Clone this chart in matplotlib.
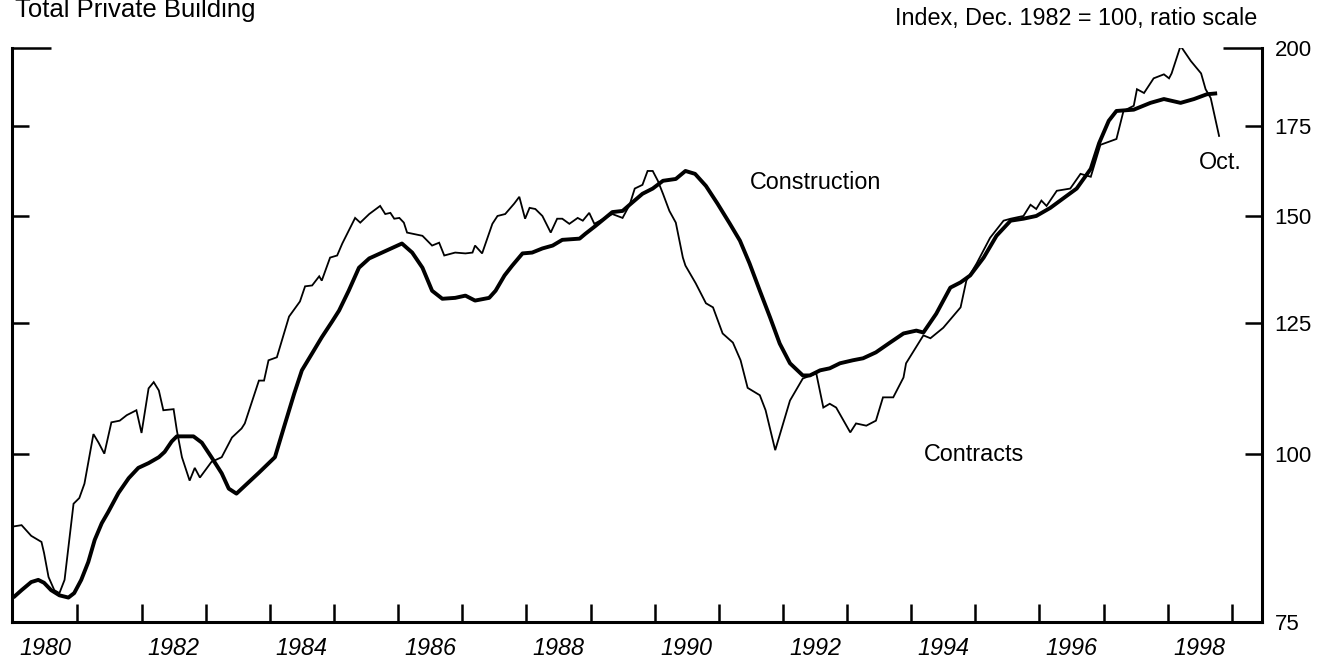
import matplotlib
matplotlib.use("Agg")
import matplotlib.pyplot as plt
from matplotlib.ticker import FixedLocator, NullLocator, FixedFormatter, NullFormatter

plt.rcParams["font.family"] = ["Liberation Sans", "DejaVu Sans"]

# index, Dec. 1982 = 100
constr_years = [1980.00, 1980.13, 1980.28, 1980.39, 1980.48, 1980.59, 1980.72, 1980.86, 1980.95,
                1981.06, 1981.17, 1981.27, 1981.38, 1981.48, 1981.64, 1981.80, 1981.95, 1982.11,
                1982.27, 1982.36, 1982.47, 1982.55, 1982.81, 1982.94, 1983.09, 1983.25, 1983.36,
                1983.48, 1983.83, 1984.08, 1984.22, 1984.38, 1984.50, 1984.66, 1984.81, 1984.97,
                1985.08, 1985.23, 1985.39, 1985.55, 1985.75, 1986.06, 1986.22, 1986.38, 1986.53,
                1986.69, 1986.89, 1987.05, 1987.20, 1987.42, 1987.52, 1987.66, 1987.78, 1987.94,
                1988.09, 1988.25, 1988.41, 1988.56, 1988.83, 1988.92, 1989.08, 1989.23, 1989.34,
                1989.50, 1989.61, 1989.81, 1989.97, 1990.13, 1990.33, 1990.48, 1990.63, 1990.80,
                1990.98, 1991.17, 1991.33, 1991.48, 1991.64, 1991.80, 1991.95, 1992.11, 1992.31,
                1992.42, 1992.58, 1992.73, 1992.89, 1993.09, 1993.25, 1993.45, 1993.67, 1993.88,
                1994.08, 1994.19, 1994.39, 1994.61, 1994.77, 1994.92, 1995.13, 1995.33, 1995.55,
                1995.75, 1995.95, 1996.17, 1996.38, 1996.58, 1996.80, 1996.93, 1997.08, 1997.20,
                1997.47, 1997.73, 1997.94, 1998.20, 1998.41, 1998.61, 1998.77]
constr_vals = [78.2, 79.2, 80.3, 80.6, 80.2, 79.2, 78.5, 78.2, 78.8,
               80.6, 83.1, 86.3, 88.8, 90.5, 93.5, 95.9, 97.6, 98.4,
               99.4, 100.3, 102.1, 103.0, 103.0, 101.9, 99.4, 96.7, 94.2,
               93.4, 96.8, 99.4, 104.6, 110.8, 115.3, 118.7, 122.0, 125.3,
               127.7, 132.1, 137.4, 139.6, 141.0, 143.2, 141.0, 137.4, 132.1,
               130.3, 130.5, 131.0, 129.9, 130.5, 132.1, 135.6, 137.9, 140.8,
               141.0, 142.0, 142.7, 144.1, 144.4, 145.6, 147.6, 149.6, 151.1,
               151.4, 153.0, 155.9, 157.3, 159.4, 159.9, 162.1, 161.3, 158.0,
               153.3, 148.2, 143.9, 138.4, 132.1, 126.2, 120.7, 116.7, 114.3,
               114.3, 115.3, 115.7, 116.7, 117.3, 117.7, 118.9, 120.9, 122.8,
               123.4, 123.0, 127.0, 132.8, 134.0, 135.6, 139.8, 145.1, 148.9,
               149.4, 150.1, 152.2, 154.8, 157.3, 162.7, 170.0, 176.6, 179.6,
               180.0, 182.1, 183.3, 182.1, 183.3, 184.8, 185.1]

contr_years = [1980.00, 1980.13, 1980.28, 1980.44, 1980.48, 1980.55, 1980.64, 1980.72, 1980.80,
               1980.88, 1980.94, 1981.03, 1981.11, 1981.25, 1981.33, 1981.42, 1981.53, 1981.66,
               1981.77, 1981.92, 1982.00, 1982.11, 1982.19, 1982.27, 1982.34, 1982.50, 1982.55,
               1982.63, 1982.75, 1982.83, 1982.91, 1983.09, 1983.25, 1983.41, 1983.56, 1983.61,
               1983.83, 1983.91, 1983.98, 1984.11, 1984.30, 1984.47, 1984.55, 1984.66, 1984.77,
               1984.81, 1984.94, 1985.05, 1985.13, 1985.33, 1985.41, 1985.55, 1985.72, 1985.80,
               1985.88, 1985.94, 1986.02, 1986.09, 1986.14, 1986.38, 1986.53, 1986.64, 1986.72,
               1986.89, 1987.05, 1987.16, 1987.20, 1987.31, 1987.47, 1987.55, 1987.67, 1987.81,
               1987.89, 1987.98, 1988.05, 1988.14, 1988.25, 1988.38, 1988.48, 1988.56, 1988.67,
               1988.80, 1988.88, 1988.98, 1989.06, 1989.23, 1989.34, 1989.50, 1989.61, 1989.69,
               1989.81, 1989.89, 1989.97, 1990.05, 1990.13, 1990.23, 1990.33, 1990.44, 1990.48,
               1990.64, 1990.80, 1990.91, 1991.06, 1991.22, 1991.34, 1991.45, 1991.64, 1991.73,
               1991.88, 1992.11, 1992.31, 1992.52, 1992.63, 1992.73, 1992.83, 1993.05, 1993.14,
               1993.30, 1993.45, 1993.56, 1993.72, 1993.88, 1993.92, 1994.19, 1994.30, 1994.50,
               1994.77, 1994.86, 1995.02, 1995.23, 1995.44, 1995.55, 1995.75, 1995.86, 1995.95,
               1996.03, 1996.11, 1996.27, 1996.48, 1996.64, 1996.80, 1996.95, 1997.20, 1997.31,
               1997.47, 1997.52, 1997.63, 1997.78, 1997.94, 1998.02, 1998.06, 1998.20, 1998.36,
               1998.52, 1998.59, 1998.67, 1998.80]
contr_vals = [88.3, 88.5, 86.9, 86.0, 84.4, 81.0, 79.2, 78.8, 80.6,
              86.9, 91.8, 92.7, 95.0, 103.4, 101.9, 100.0, 105.5, 105.8,
              106.8, 107.7, 103.6, 111.8, 113.0, 111.4, 107.7, 107.9, 104.1,
              99.4, 95.5, 97.6, 96.0, 98.6, 99.4, 102.8, 104.4, 105.3,
              113.3, 113.3, 117.3, 117.9, 126.4, 129.7, 133.1, 133.3, 135.4,
              134.4, 139.8, 140.3, 143.2, 149.6, 148.4, 150.6, 152.7, 150.6,
              150.9, 149.4, 149.6, 148.4, 145.9, 145.1, 142.7, 143.4, 140.3,
              141.0, 140.8, 141.0, 142.7, 140.8, 148.1, 150.1, 150.6, 153.3,
              155.1, 149.4, 152.2, 151.9, 150.1, 145.9, 149.4, 149.4, 148.1,
              149.6, 148.9, 150.9, 148.1, 149.6, 150.6, 149.6, 153.0, 157.3,
              158.3, 162.1, 162.1, 159.4, 155.9, 151.4, 148.4, 139.8, 137.9,
              133.8, 129.3, 128.4, 122.8, 120.9, 117.3, 111.9, 110.5, 107.7,
              100.6, 109.5, 113.7, 114.7, 108.2, 108.9, 108.2, 103.7, 105.3,
              104.9, 105.8, 110.1, 110.1, 113.9, 116.7, 122.4, 121.8, 124.0,
              128.4, 134.4, 138.4, 144.6, 148.9, 149.4, 150.1, 153.0, 151.9,
              154.1, 152.7, 156.7, 157.3, 161.3, 160.5, 169.5, 171.2, 179.6,
              181.2, 186.4, 185.2, 189.9, 191.2, 189.9, 191.5, 200.7, 195.6,
              191.5, 186.4, 183.6, 172.1]

yticks = [75, 100, 125, 150, 175, 200]
year_ticks = list(range(1981, 2000))
year_labels = [str(y) for y in range(1980, 1999, 2)]

fig = plt.figure(figsize=(13.3, 6.63), dpi=100)
ax = fig.add_axes([0.0090, 0.0618, 0.9399, 0.8658])

ax.plot(contr_years, contr_vals, color="black", lw=1.3, solid_joinstyle="miter")
ax.plot(constr_years, constr_vals, color="black", lw=2.8, solid_capstyle="butt")

ax.set_yscale("log")
ax.set_ylim(75, 200)
ax.set_xlim(1979.98, 1999.47)

ax.yaxis.set_major_locator(FixedLocator(yticks))
ax.yaxis.set_major_formatter(FixedFormatter([str(v) for v in yticks]))
ax.yaxis.set_minor_locator(NullLocator())
ax.yaxis.set_minor_formatter(NullFormatter())

ax.xaxis.set_major_locator(FixedLocator(year_ticks))
ax.xaxis.set_major_formatter(NullFormatter())
ax.xaxis.set_minor_locator(FixedLocator([y + 0.5 for y in range(1980, 1999, 2)]))
ax.xaxis.set_minor_formatter(FixedFormatter(year_labels))

ax.spines["top"].set_visible(False)
for s in ["left", "right", "bottom"]:
    ax.spines[s].set_linewidth(2.2)

ax.tick_params(axis="y", which="major", left=True, right=True, labelleft=False,
               labelright=True, direction="in", length=12, width=1.8,
               labelsize=16, pad=9)
ax.tick_params(axis="x", which="major", direction="in", length=13, width=1.8)
ax.tick_params(axis="x", which="minor", length=0, labelsize=16.8, pad=11)
for lab in ax.xaxis.get_minorticklabels():
    lab.set_fontstyle("italic")

# the 200 ticks run longer, like a cap on each axis
top_tick = ax.yaxis.get_major_ticks()[-1]
top_tick.tick1line.set_markersize(28)
top_tick.tick2line.set_markersize(28)

ax.text(1991.48, 157.2, "Construction", fontsize=16.8, va="baseline")
ax.text(1994.19, 98.7, "Contracts", fontsize=16.8, va="baseline")
ax.text(1998.48, 162.7, "Oct.", fontsize=16.8, va="baseline")

fig.text(0.0113, 0.974, "Total Private Building", fontsize=18.5, va="baseline")
fig.text(0.9451, 0.9623, "Index, Dec. 1982 = 100, ratio scale", fontsize=16.8,
         va="baseline", ha="right")

fig.savefig("out.png", dpi=100)
